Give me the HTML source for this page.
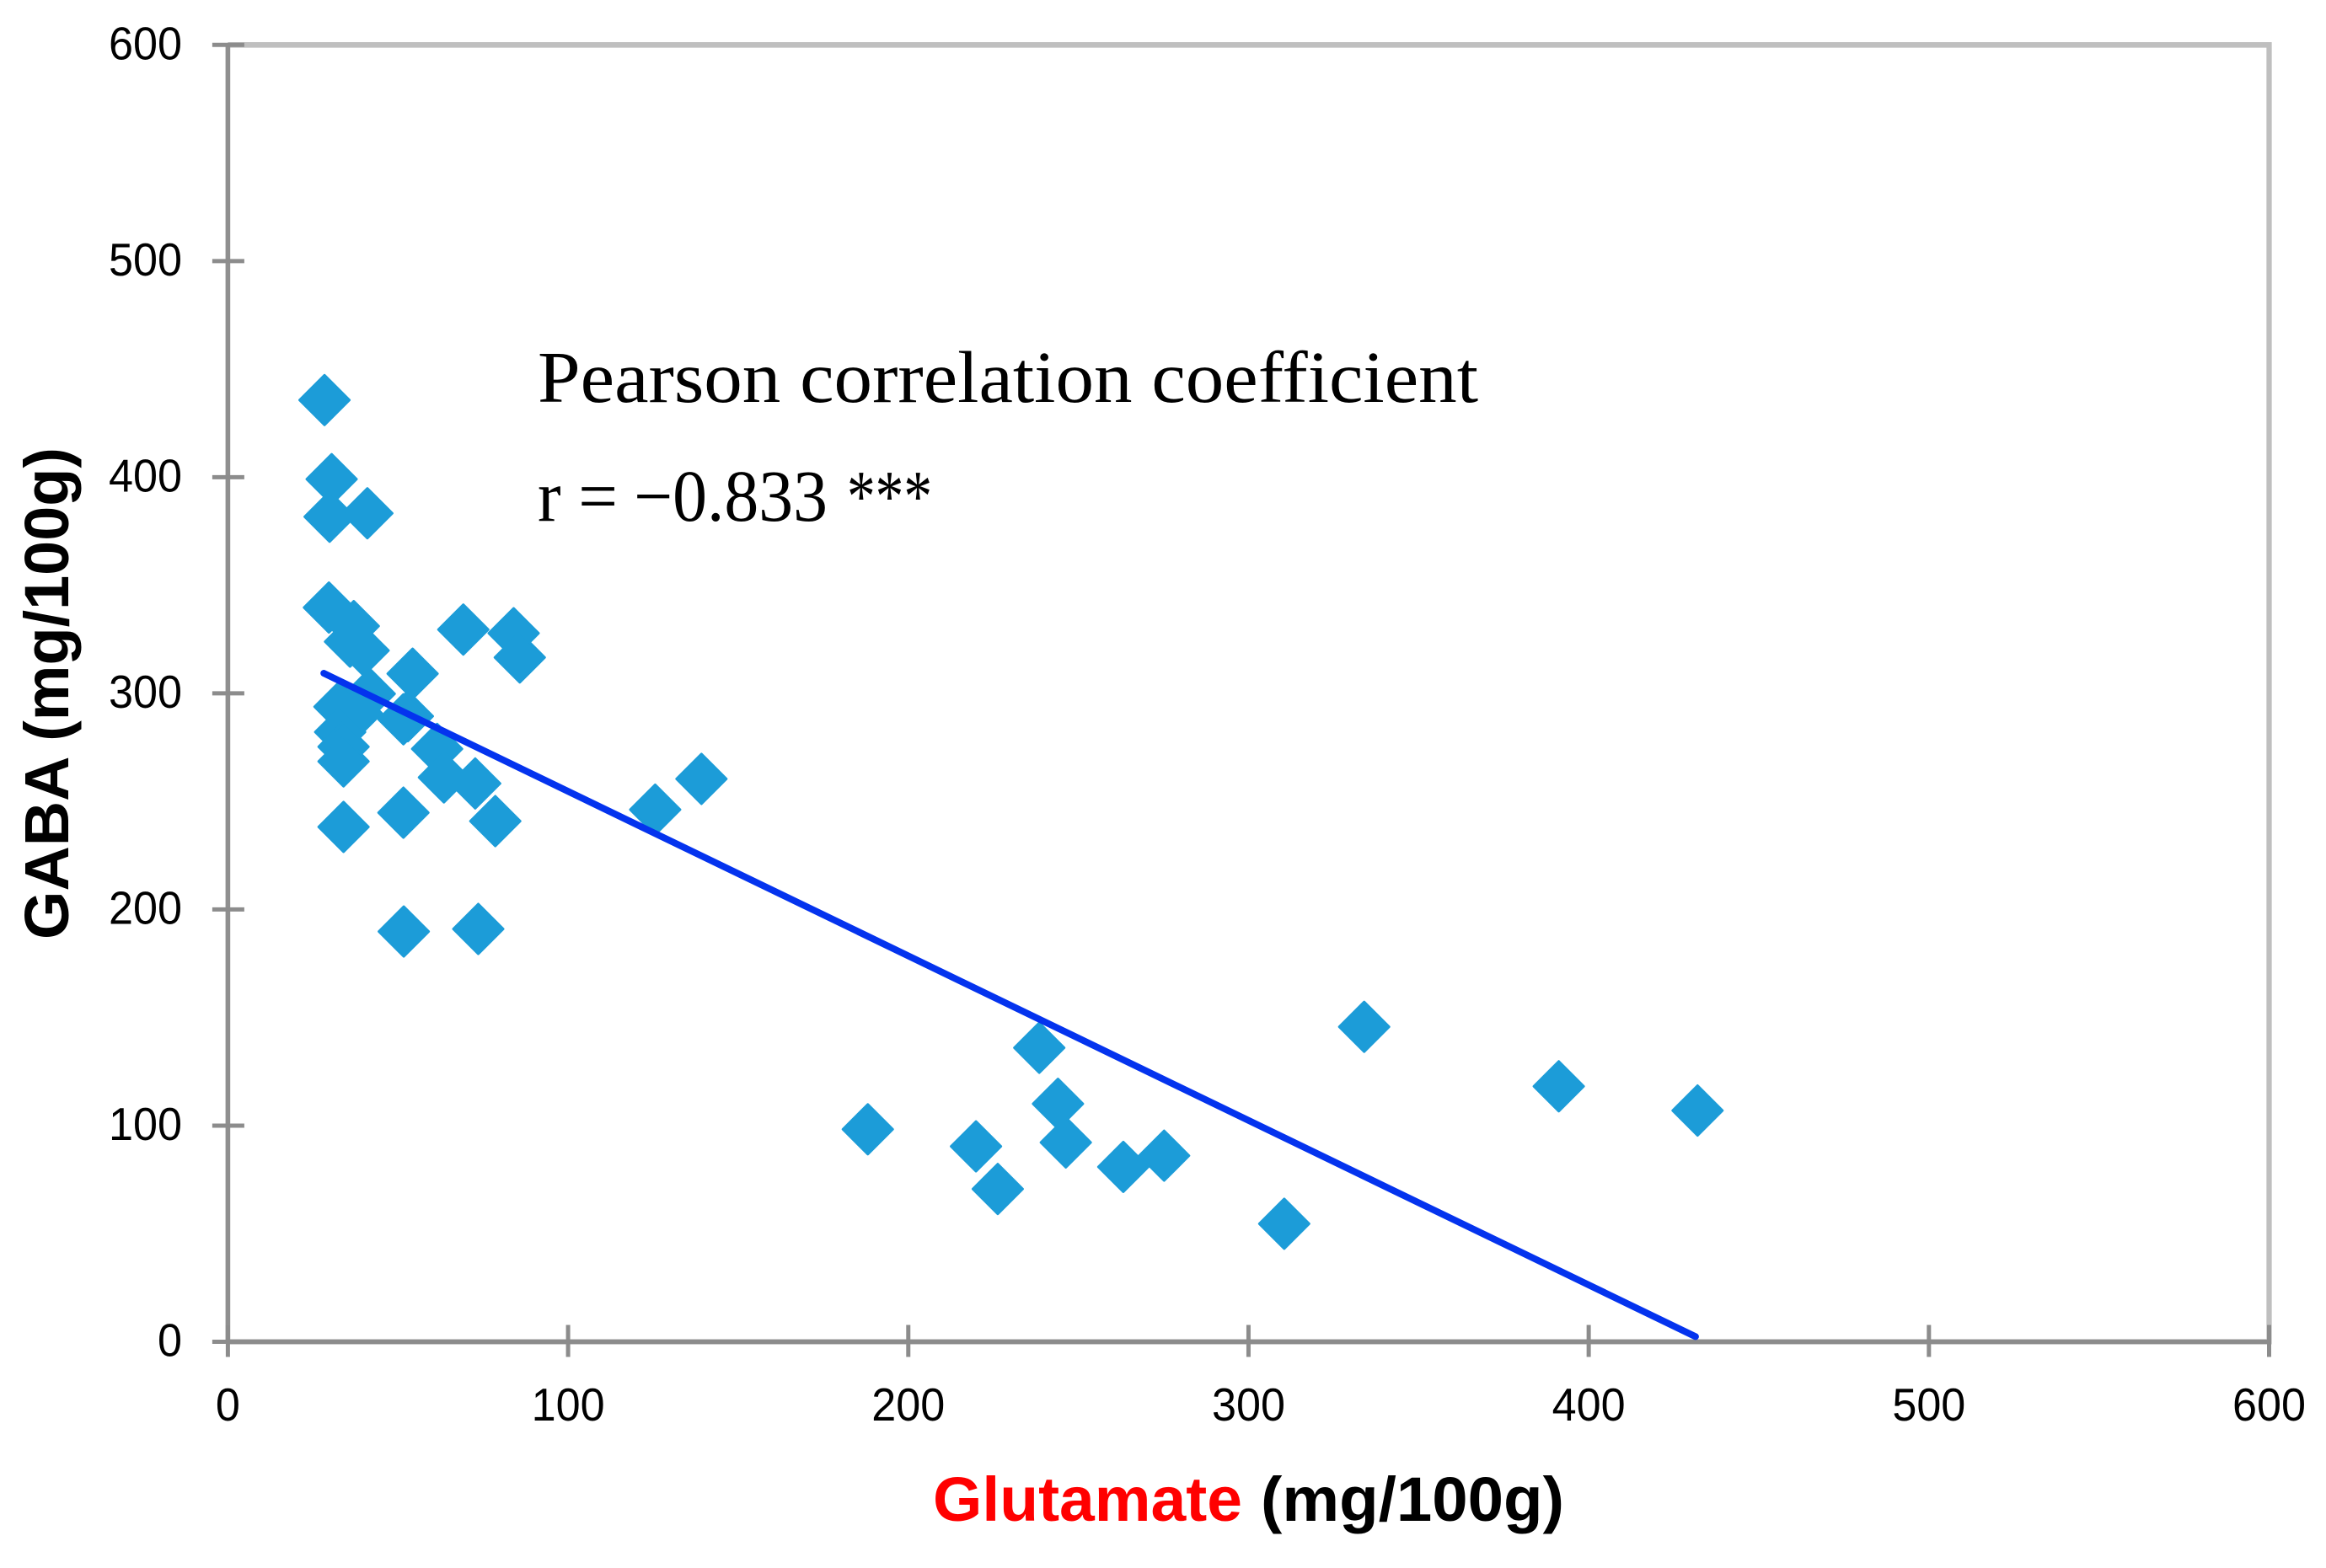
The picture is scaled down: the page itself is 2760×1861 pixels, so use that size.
<!DOCTYPE html>
<html lang="en">
<head>
<meta charset="utf-8">
<title>GABA vs Glutamate scatter</title>
<style>
html,body{margin:0;padding:0;background:#fff;width:2760px;height:1861px;overflow:hidden}
svg{display:block}
.tick{font-family:"Liberation Sans",sans-serif;font-size:55px;fill:#000}
.title{font-family:"Liberation Sans",sans-serif;font-weight:bold;font-size:74px;fill:#000}
.note{font-family:"Liberation Serif",serif;font-size:87px;fill:#000}
</style>
</head>
<body>
<svg id="chart" xmlns="http://www.w3.org/2000/svg" width="2760" height="1861" viewBox="0 0 2760 1861">
  <rect width="2760" height="1861" fill="#fff"/>
  <g id="frame"></g>
  <g id="axes"></g>
  <g id="points"></g>
  <g id="trend"></g>
  <text class="note" x="638" y="477" textLength="1116" lengthAdjust="spacingAndGlyphs">Pearson correlation coefficient</text>
  <text class="note" x="638" y="618" textLength="95" lengthAdjust="spacingAndGlyphs">r =</text>
  <text class="note" x="752" y="618" textLength="230" lengthAdjust="spacingAndGlyphs">−0.833</text>
  <text class="note" x="1005" y="618" textLength="101" lengthAdjust="spacingAndGlyphs">***</text>
  <text class="title" x="1107" y="1805" textLength="367" lengthAdjust="spacingAndGlyphs" fill="#ff0000" style="fill:#ff0000">Glutamate</text>
  <text class="title" x="1496" y="1805" textLength="360" lengthAdjust="spacingAndGlyphs">(mg/100g)</text>
  <text class="title" transform="translate(81,1115) rotate(-90)" x="0" y="0" textLength="584" lengthAdjust="spacingAndGlyphs">GABA (mg/100g)</text>
</svg>
<script>
const xTicks = [0, 100, 200, 300, 400, 500, 600];
const yTicks = [0, 100, 200, 300, 400, 500, 600];
const glutamate = [28.4, 30.5, 29.9, 41, 29.7, 37, 35.9, 39.9, 69.2, 84, 85.8, 54.3, 41.7, 32.8, 52.9, 51.6, 37.9, 33, 34, 34, 61.5, 63.5, 72.7, 78.6, 51.6, 34, 125.6, 139.2, 51.7, 73.6, 188.1, 219.9, 226.3, 238.5, 244, 246.3, 263.2, 275.2, 310.5, 334, 391.2, 432];
const gaba = [435.7, 399.1, 381.7, 383.3, 339.7, 331.1, 323.9, 319.8, 329.5, 327.8, 316.6, 309.1, 299.8, 293.8, 289.4, 288, 290.8, 282.1, 275.3, 268.5, 274.3, 261.1, 258.3, 240.9, 244.8, 238.2, 246.2, 260.4, 189.8, 191, 98.3, 90.4, 70.7, 136, 110.1, 92.2, 80.9, 86.1, 54.6, 145.7, 118.2, 107];
const trendGlutamate = [28.2, 431.4];
const trendGaba = [309.3, 2.4];

const NS = 'http://www.w3.org/2000/svg';
const X0 = 270.4, X600 = 2692.5, Y0 = 1592.5, Y600 = 53.3;
const sx = v => X0 + (v / 600) * (X600 - X0);
const sy = v => Y0 - (v / 600) * (Y0 - Y600);
const mk = (tag, attrs) => {
  const el = document.createElementNS(NS, tag);
  Object.keys(attrs).forEach(k => el.setAttribute(k, attrs[k]));
  return el;
};
const frame = document.getElementById('frame');
const axes = document.getElementById('axes');
const points = document.getElementById('points');
const trend = document.getElementById('trend');

const topBorder = mk('line', {x1: sx(0), x2: sx(600) + 3, y1: sy(600), y2: sy(600), stroke: '#bfbfbf', 'stroke-width': 6.7});


frame.appendChild(topBorder);
const rightBorder = mk('line', {x1: sx(600), x2: sx(600), y1: sy(600) - 3, y2: sy(0) + 3, stroke: '#bfbfbf', 'stroke-width': 6.3});


frame.appendChild(rightBorder);

const xAxisHalo = mk('line', {x1: sx(0), x2: sx(600), y1: sy(0), y2: sy(0), stroke: '#bdbdbd', 'stroke-width': 6.5});


axes.appendChild(xAxisHalo);
const xAxis = mk('line', {x1: sx(0), x2: sx(600), y1: sy(0), y2: sy(0), stroke: '#8c8c8c', 'stroke-width': 5});


axes.appendChild(xAxis);
const yAxis = mk('line', {x1: sx(0), x2: sx(0), y1: sy(600) + 2, y2: sy(0), stroke: '#8f8f8f', 'stroke-width': 5.6});


axes.appendChild(yAxis);

xTicks.forEach(v => {
  const t = mk('line', {x1: sx(v), x2: sx(v), y1: sy(0) - 20, y2: sy(0) + 18, stroke: '#8c8c8c', 'stroke-width': 5});
  
  
  axes.appendChild(t);
  const label = mk('text', {class: 'tick', x: sx(v), y: 1686, 'text-anchor': 'middle'});
  
  
  const str = String(v);
  label.setAttribute('textLength', 29 * str.length);
  label.setAttribute('lengthAdjust', 'spacingAndGlyphs');
  label.textContent = str;
  axes.appendChild(label);
});
yTicks.forEach(v => {
  const t = mk('line', {x1: sx(0) - 18.5, x2: sx(0) + 19.5, y1: sy(v), y2: sy(v), stroke: '#8c8c8c', 'stroke-width': 5});
  
  
  axes.appendChild(t);
  const label = mk('text', {class: 'tick', x: 216, y: sy(v) + 17, 'text-anchor': 'end'});
  
  
  const str = String(v);
  label.setAttribute('textLength', 29 * str.length);
  label.setAttribute('lengthAdjust', 'spacingAndGlyphs');
  label.textContent = str;
  axes.appendChild(label);
});

const R = 29.5;
glutamate.forEach((g, i) => {
  const cx = sx(g), cy = sy(gaba[i]);
  const d = mk('polygon', {
    points: [[cx, cy - R], [cx + R, cy], [cx, cy + R], [cx - R, cy]].map(p => p.join(',')).join(' '),
    fill: '#1c9cd8', stroke: '#1c9cd8', 'stroke-width': 3, 'stroke-linejoin': 'round'
  });
  
  
  points.appendChild(d);
});

const line = mk('line', {
  x1: sx(trendGlutamate[0]), y1: sy(trendGaba[0]),
  x2: sx(trendGlutamate[1]), y2: sy(trendGaba[1]),
  stroke: '#0433ee', 'stroke-width': 8, 'stroke-linecap': 'round'
});


trend.appendChild(line);
</script>
</body>
</html>
